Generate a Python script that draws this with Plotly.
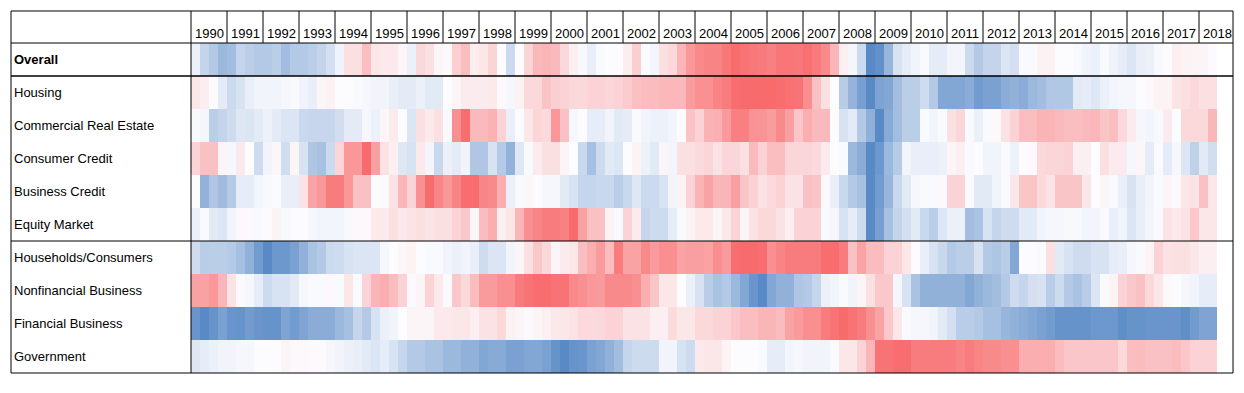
import plotly.graph_objects as go

# ---------------- data ----------------
years = list(range(1990, 2019))
quarters = [f"{y} Q{q}" for y in years for q in range(1, 5)][:114]   # 1990Q1 .. 2018Q2

rows = ["Overall", "Housing", "Commercial Real Estate", "Consumer Credit",
        "Business Credit", "Equity Market", "Households/Consumers",
        "Nonfinancial Business", "Financial Business", "Government"]

overall = [
    -0.1, -0.35, -0.45, -0.6, -0.55, -0.35, -0.4, -0.45, -0.45, -0.4,
    -0.55, -0.45, -0.45, -0.4, -0.35, -0.25, -0.08, 0.15, 0.15, 0.35,
    0.12, 0.1, 0.1, 0.03, -0.1, 0.2, 0.15, 0.03, 0.02,
    0.25, 0.35, 0.08, 0.12, 0.22, 0, -0.3, 0, 0.22, 0.38,
    0.4, 0.37, 0.2, 0.07, -0.03, -0.12, -0.02, 0, 0, 0.08,
    0.25, -0.01, -0.06, 0.15, 0.2, 0.4, 0.6, 0.7, 0.75,
    0.75, 0.85, 0.97, 0.9, 0.85, 0.83, 0.78, 0.87, 0.87, 0.85,
    0.93, 0.83, 0.7, 0.4, 0.07, -0.05, -0.3, -1, -0.95, -0.62,
    -0.22, -0.13, -0.07, -0.02, -0.14, -0.14, -0.06, -0.06, -0.3,
    -0.45, -0.35, -0.35, -0.2, -0.25, -0.02, -0.02, 0.06, 0.06, 0,
    0, -0.03, -0.07, -0.1, -0.02, -0.08, -0.13, -0.2, -0.12, -0.1,
    -0.02, 0, 0.07, 0.05, 0.05, 0.04, 0.01]

housing = [
    0.12, 0.08, 0.01, -0.15, -0.3, -0.22, -0.12, -0.07, -0.07, -0.07,
    -0.04, -0.02, -0.07, -0.12, 0.04, 0.06, 0, 0, -0.02, -0.04,
    -0.07, -0.07, -0.12, -0.15, -0.15, -0.1, -0.16, -0.16, 0,
    0.04, 0.09, 0.09, 0.09, 0.1, 0.02, -0.04, 0.06, 0.2, 0.2,
    0.32, 0.25, 0.23, 0.2, 0.2, 0.23, 0.23, 0.21, 0.23, 0.27,
    0.33, 0.36, 0.36, 0.38, 0.38, 0.38, 0.57, 0.65, 0.65,
    0.75, 0.82, 0.95, 0.98, 0.98, 0.98, 0.98, 0.96, 0.92, 0.9,
    0.68, 0.33, 0.15, 0, -0.42, -0.63, -0.82, -1, -0.78, -0.75,
    -0.55, -0.4, -0.4, -0.28, -0.45, -0.75, -0.75, -0.75, -0.7,
    -0.85, -0.8, -0.8, -0.7, -0.66, -0.7, -0.6, -0.55, -0.47, -0.46,
    -0.46, -0.16, -0.13, -0.18, -0.1, -0.06, -0.04, -0.04, 0, 0.02,
    0.05, 0.05, 0.13, 0.15, 0.2, 0.16, 0.16]

commercial_re = [
    -0.03, -0.05, -0.4, -0.35, -0.28, -0.18, -0.2, -0.15, -0.09, -0.15,
    -0.2, -0.2, -0.32, -0.33, -0.33, -0.33, -0.26, -0.15, -0.15, -0.04,
    -0.09, 0.03, 0.09, 0, -0.2, 0.15, 0.1, 0.15, -0.03,
    0.66, 0.96, 0.37, 0.37, 0.42, 0.23, -0.12, -0.01, 0.12, 0.21,
    0.19, 0.6, 0.33, -0.04, 0, -0.13, -0.13, -0.07, -0.16, -0.14,
    -0.02, -0.07, -0.09, -0.09, -0.06, 0, 0.32, 0.23, 0.42,
    0.44, 0.58, 0.78, 0.78, 0.64, 0.62, 0.57, 0.7, 0.55, 0.3,
    0.45, 0.37, 0.37, 0, -0.23, -0.15, -0.45, -0.67, -1, -0.72,
    -0.55, -0.4, -0.4, -0.02, -0.06, -0.02, 0.15, 0.21, -0.02,
    -0.1, -0.02, 0.02, 0.14, 0.23, 0.35, 0.35, 0.41, 0.41, 0.37,
    0.35, 0.35, 0.37, 0.39, 0.31, 0.35, 0.19, 0.09, -0.04, -0.06,
    -0.03, 0.09, 0, 0.2, 0.2, 0.2, 0.39]

consumer_credit = [
    0.23, 0.33, 0.33, 0.04, -0.04, 0.1, 0, -0.28, -0.07, 0.03,
    -0.27, 0.04, -0.22, -0.48, -0.52, -0.3, 0.21, 0.6, 0.6, 0.98,
    0.55, 0.14, 0.07, -0.18, -0.23, 0.1, -0.06, -0.32, -0.1,
    -0.15, -0.07, -0.47, -0.47, -0.22, -0.44, -0.65, -0.18, -0.02, 0.09,
    0.15, 0.15, 0.04, 0, -0.32, -0.53, -0.29, -0.16, -0.19, 0,
    0.05, -0.09, -0.16, 0.04, -0.06, 0.15, 0.15, 0.19, 0.21,
    0.14, 0.21, 0.21, 0.15, 0.37, 0.23, 0.35, 0.35, 0.21, 0.21,
    0.21, 0.19, 0.09, 0, -0.02, -0.6, -0.7, -1, -0.88, -0.6,
    -0.43, -0.06, -0.12, -0.12, -0.12, -0.09, 0.04, 0.07, -0.02,
    0, -0.07, -0.07, -0.02, -0.09, 0, 0.02, 0.2, 0.21, 0.21,
    0.23, 0.07, 0.07, 0, 0.15, 0.09, 0.09, -0.04, 0.03, -0.14,
    -0.02, -0.14, -0.04, -0.19, -0.38, -0.16, -0.26]

business_credit = [
    0, -0.65, -0.47, -0.56, -0.44, -0.13, -0.13, -0.06, -0.03, -0.01,
    -0.12, -0.12, 0.14, 0.52, 0.6, 0.82, 0.82, 0.6, 0.33, 0.33,
    0, -0.02, 0.14, 0.39, 0.23, 0.65, 0.98, 0.73, 0.6,
    0.75, 0.96, 0.96, 0.73, 0.7, 0.45, -0.1, -0.03, 0.03, 0,
    -0.04, -0.04, -0.16, -0.23, -0.34, -0.34, -0.32, -0.32, -0.41, -0.32,
    -0.18, -0.3, -0.3, -0.23, -0.07, 0.05, 0.23, 0.41, 0.52,
    0.4, 0.4, 0.55, 0.31, 0.23, 0.14, 0.19, 0.23, 0.14, 0.14,
    0.33, 0.31, -0.03, -0.12, -0.32, -0.45, -0.52, -1, -0.85, -0.62,
    -0.32, -0.16, -0.04, -0.02, -0.02, 0.02, 0.23, 0.23, -0.02,
    -0.16, -0.16, -0.07, -0.02, 0.12, 0.31, 0.31, 0.2, 0.14, 0.31,
    0.31, 0.31, 0.12, 0, 0.04, -0.03, -0.12, -0.23, -0.12, -0.07,
    -0.02, 0.04, 0.02, 0.12, 0.14, 0.33, 0.12]

equity_market = [
    -0.1, -0.02, -0.16, -0.19, -0.07, 0.02, 0.02, -0.03, 0.01, 0.05,
    -0.03, 0, 0, -0.04, -0.06, -0.06, -0.06, -0.03, 0.02, 0.02,
    0.1, 0.1, 0.15, 0.1, 0.13, 0.15, 0.13, 0.15, 0.15,
    0.23, 0.29, 0.04, 0.36, 0.45, 0.07, 0.12, 0.4, 0.66, 0.73,
    0.82, 0.82, 0.77, 0.98, 0.53, 0.33, 0.33, 0.05, -0.02, 0.23,
    0.09, -0.34, -0.29, -0.29, -0.13, -0.02, 0.05, 0.1, 0.1,
    0.04, 0.12, 0.23, 0.04, 0.14, 0.2, 0.2, 0.14, 0.07, 0.23,
    0.23, 0.23, -0.02, -0.04, -0.23, -0.13, -0.29, -1, -0.82, -0.52,
    -0.35, -0.25, -0.16, -0.32, -0.4, -0.19, -0.1, -0.1, -0.55,
    -0.5, -0.23, -0.34, -0.28, -0.28, -0.16, -0.16, -0.07, -0.04, -0.04,
    -0.03, -0.03, -0.06, -0.06, -0.02, -0.12, -0.07, -0.2, -0.12, -0.06,
    -0.02, 0.14, 0.1, 0.14, 0.29, 0.12, 0.12]

households = [
    -0.28, -0.41, -0.4, -0.4, -0.44, -0.53, -0.66, -0.85, -1, -0.88,
    -0.88, -0.8, -0.66, -0.5, -0.45, -0.3, -0.28, -0.23, -0.2, -0.2,
    -0.2, -0.04, 0, 0.03, 0.05, 0, -0.02, -0.02, -0.07,
    -0.1, -0.07, -0.12, -0.28, -0.2, -0.2, -0.06, 0.04, 0.15, 0.29,
    0.2, 0.04, 0.09, 0.12, 0.35, 0.45, 0.58, 0.36, 0.82, 0.52,
    0.52, 0.7, 0.58, 0.66, 0.66, 0.52, 0.55, 0.55, 0.52,
    0.68, 0.58, 0.96, 0.98, 0.98, 0.96, 0.66, 0.75, 0.82, 0.82,
    0.82, 0.82, 0.96, 0.96, 0.82, 0.33, 0.52, 0.36, 0.36, 0.23,
    0.23, 0.12, 0, -0.12, -0.23, -0.32, -0.45, -0.4, -0.4,
    -0.23, -0.45, -0.48, -0.41, -0.75, 0, 0, -0.02, 0.15, -0.16,
    -0.23, -0.28, -0.28, -0.23, -0.23, -0.13, -0.12, -0.04, -0.02, 0.05,
    0.23, 0.14, 0.15, 0.15, 0.12, 0.07, 0.07]

nonfinancial = [
    0.53, 0.53, 0.6, 0.4, 0.14, 0.02, -0.04, -0.13, -0.29, -0.23,
    -0.23, -0.16, -0.04, -0.02, -0.02, 0.02, -0.02, 0.12, -0.02, 0.23,
    0.4, 0.45, 0.36, 0.23, 0.02, 0.04, 0.23, 0.1, -0.02,
    0.29, 0.2, 0.36, 0.58, 0.58, 0.66, 0.66, 0.82, 0.9, 0.96,
    0.96, 0.9, 0.9, 0.7, 0.66, 0.6, 0.58, 0.7, 0.7, 0.7,
    0.66, 0.45, 0.31, 0.12, 0.12, 0, -0.1, -0.23, -0.41,
    -0.5, -0.45, -0.6, -0.75, -0.9, -1, -0.75, -0.66, -0.66, -0.48,
    -0.45, -0.34, -0.1, -0.07, -0.02, -0.07, 0.04, 0.15, 0.29, 0.29,
    -0.04, -0.23, -0.5, -0.66, -0.66, -0.66, -0.66, -0.66, -0.75,
    -0.66, -0.6, -0.55, -0.45, -0.28, -0.34, -0.25, -0.23, -0.41, -0.29,
    -0.45, -0.5, -0.41, -0.2, -0.02, 0.05, 0.23, 0.29, 0.33, 0.2,
    0.12, 0.02, 0, -0.04, -0.07, -0.13, -0.13]

financial = [
    -0.9, -1, -0.92, -0.8, -0.9, -0.92, -0.85, -0.9, -0.92, -0.92,
    -0.77, -0.85, -0.77, -0.7, -0.7, -0.7, -0.6, -0.53, -0.34, -0.45,
    -0.23, -0.1, -0.07, 0, 0.04, 0.04, 0.04, 0.1, 0.1,
    0.12, 0.12, 0.07, 0.14, 0.14, 0.2, 0.06, 0.04, 0.02, 0.04,
    0.07, 0.11, 0.12, 0.14, 0.19, 0.19, 0.2, 0.23, 0.23, 0.14,
    0.14, 0.14, 0.07, 0.07, 0.18, 0.12, 0.12, 0.2, 0.2,
    0.23, 0.23, 0.29, 0.35, 0.35, 0.4, 0.4, 0.36, 0.52, 0.58,
    0.66, 0.66, 0.82, 0.9, 0.98, 0.9, 0.82, 0.66, 0.52, 0.29,
    0.12, -0.02, -0.04, -0.04, -0.07, -0.16, -0.25, -0.41, -0.41,
    -0.45, -0.53, -0.53, -0.62, -0.66, -0.7, -0.75, -0.8, -0.85, -0.92,
    -0.92, -0.92, -0.92, -0.88, -0.88, -0.88, -0.96, -0.92, -0.92, -0.9,
    -0.9, -0.9, -0.9, -0.96, -0.85, -0.77, -0.77]

government = [
    -0.18, -0.13, -0.1, -0.07, -0.07, -0.04, -0.04, 0, 0, 0,
    0.04, 0.02, 0.02, 0.01, 0.01, -0.04, -0.07, -0.1, -0.12, -0.16,
    -0.2, -0.13, -0.23, -0.34, -0.45, -0.45, -0.5, -0.5, -0.6,
    -0.6, -0.66, -0.66, -0.75, -0.72, -0.72, -0.8, -0.8, -0.75, -0.75,
    -0.8, -0.92, -1, -0.92, -0.9, -0.8, -0.75, -0.66, -0.55, -0.34,
    -0.29, -0.29, -0.29, -0.07, -0.07, -0.23, -0.29, 0.1, 0.12,
    0.12, 0.05, 0, 0, 0, -0.02, -0.13, -0.13, -0.06, -0.04,
    -0.07, -0.07, -0.07, -0.02, 0.12, 0.12, 0.23, 0.4, 0.9, 0.9,
    0.96, 0.96, 0.82, 0.82, 0.82, 0.82, 0.82, 0.75, 0.82,
    0.75, 0.7, 0.7, 0.66, 0.66, 0.45, 0.45, 0.45, 0.45, 0.36,
    0.3, 0.3, 0.3, 0.3, 0.3, 0.3, 0.2, 0.35, 0.36, 0.33,
    0.33, 0.33, 0.36, 0.3, 0.23, 0.23, 0.23]

series = [overall, housing, commercial_re, consumer_credit, business_credit,
          equity_market, households, nonfinancial, financial, government]
for s in series:
    assert len(s) == len(quarters), len(s)

# ---------------- figure ----------------
n = len(quarters)
colorscale = [
    [0.0, "rgb(90,138,198)"],
    [0.5, "rgb(252,252,255)"],
    [0.57, "rgb(251,226,228)"],
    [0.70, "rgb(250,181,184)"],
    [0.80, "rgb(249,151,153)"],
    [0.91, "rgb(248,123,125)"],
    [1.0, "rgb(248,105,107)"],
]

fig = go.Figure(go.Heatmap(
    z=series,
    x=list(range(n)),
    y=list(range(len(rows))),
    customdata=[[[r, q] for q in quarters] for r in rows],
    hovertemplate="%{customdata[0]}<br>%{customdata[1]}: %{z}<extra></extra>",
    colorscale=colorscale, zmin=-1, zmax=1, showscale=False,
))

# table geometry in axis units (one unit = one quarter column / one row)
label_left = -20.5
table_right = 115.28
header_top = -1.47
table_bottom = 9.5

line = dict(color="black", width=1)
shapes = [
    dict(type="rect", x0=label_left, x1=table_right, y0=header_top, y1=table_bottom, line=line),
    dict(type="line", x0=-0.5, x1=-0.5, y0=header_top, y1=table_bottom, line=line),
    dict(type="line", x0=label_left, x1=table_right, y0=-0.5, y1=-0.5, line=line),
    dict(type="line", x0=label_left, x1=table_right, y0=0.5, y1=0.5, line=dict(color="black", width=1.3)),
    dict(type="line", x0=label_left, x1=table_right, y0=5.5, y1=5.5, line=line),
]
for k in range(1, len(years)):
    shapes.append(dict(type="line", x0=4 * k - 0.5, x1=4 * k - 0.5,
                       y0=header_top, y1=-0.5, line=line))

font = dict(family="Liberation Sans, Arial, sans-serif", size=13, color="black")
annotations = []
for k, yr in enumerate(years):
    annotations.append(dict(x=4 * k + 1.5, y=-0.8, text=str(yr), showarrow=False,
                            xanchor="center", yanchor="middle", font=font))
for i, r in enumerate(rows):
    annotations.append(dict(x=-20.4, y=i, text=f"<b>{r}</b>" if r == "Overall" else r,
                            showarrow=False, xanchor="left", yanchor="middle", font=font))

fig.update_layout(
    width=1244, height=393,
    margin=dict(l=0, r=0, t=0, b=0),
    paper_bgcolor="white", plot_bgcolor="white",
    xaxis=dict(range=[-21.722, 116.5], visible=False, fixedrange=True),
    yaxis=dict(range=[10.106, -1.803], visible=False, fixedrange=True),
    shapes=shapes, annotations=annotations, showlegend=False,
)

fig.write_html("out.html", config={"displayModeBar": False},
               post_script="document.body.style.margin='0';")
